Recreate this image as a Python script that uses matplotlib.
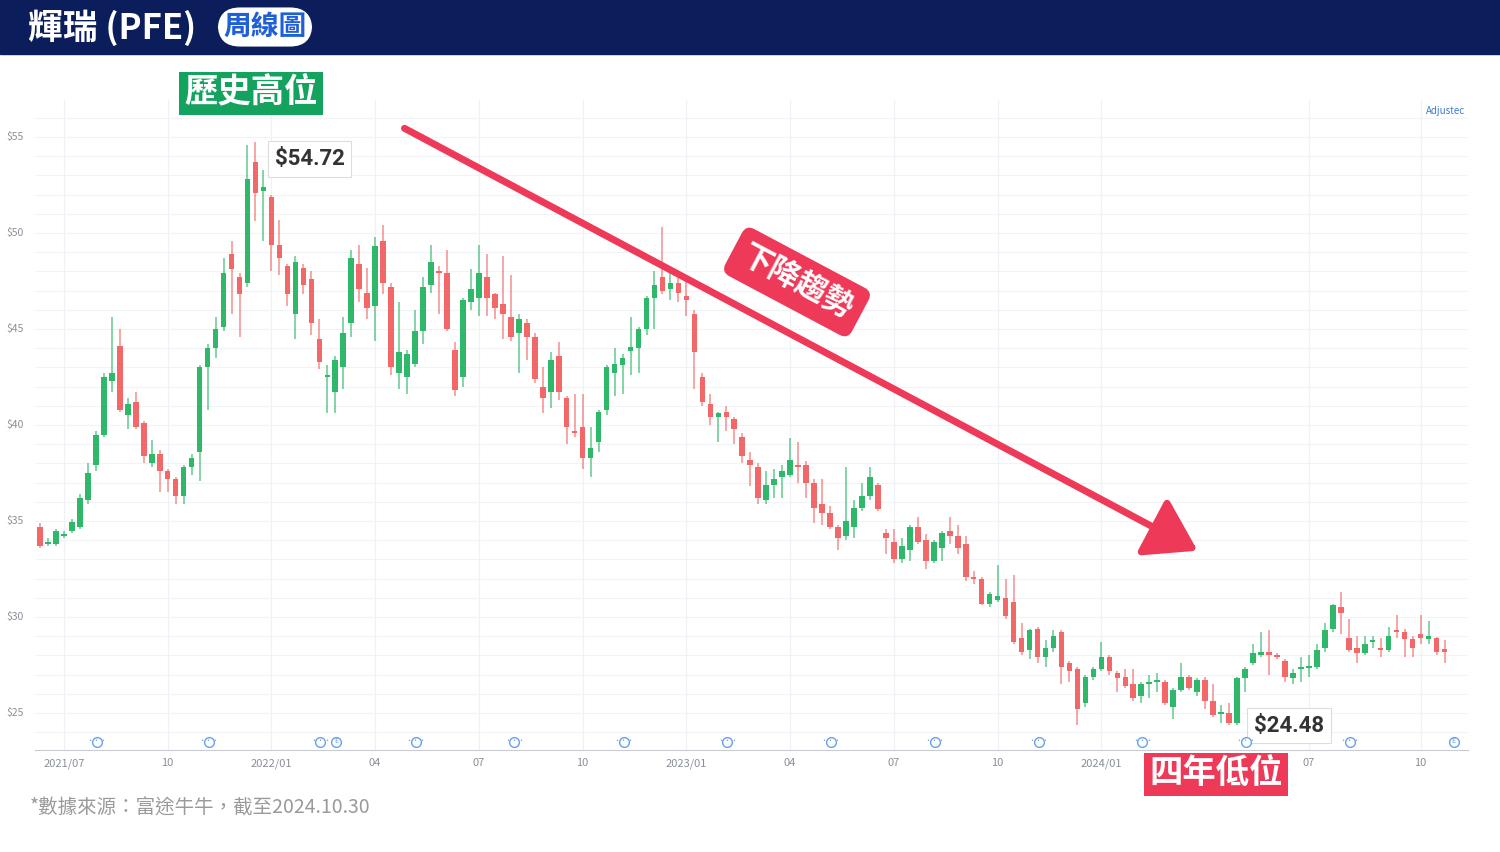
import numpy as np
import matplotlib
matplotlib.use("Agg")
import matplotlib.pyplot as plt
import matplotlib.dates as mdates
from matplotlib.patches import Rectangle
import datetime as dt

plt.rcParams['font.family'] = ['Noto Sans CJK TC', 'DejaVu Sans']

# weekly candles, PFE, from week of 2021-06-07 to 2024-10-28
opens = [34.7, 33.8, 33.8, 34.2, 34.5, 34.7, 36.1, 37.9, 39.5, 42.3, 44.1, 40.5, 41.2, 40.1, 38.0, 38.5, 37.6, 37.2, 36.3, 37.8,
         38.6, 43.0, 44.0, 45.1, 48.9, 47.7, 47.4, 53.7, 52.2, 51.9, 49.4, 48.3, 45.8, 48.2, 47.6, 44.5, 42.5, 41.7, 43.0, 45.3,
         48.4, 46.9, 46.2, 49.6, 47.2, 42.7, 42.5, 43.2, 44.9, 47.3, 48.0, 47.9, 43.9, 42.5, 46.4, 46.6, 47.7, 46.8, 46.3, 45.6,
         44.8, 45.3, 44.6, 42.0, 41.7, 43.6, 41.4, 39.7, 39.9, 38.3, 39.1, 40.8, 42.7, 43.1, 43.85, 44.0, 45.0, 46.6, 47.7, 47.1,
         47.4, 46.7, 45.8, 42.5, 41.1, 40.4, 40.7, 40.3, 39.4, 38.2, 37.8, 36.1, 36.9, 37.3, 37.4, 37.9, 37.9, 37.0, 35.9, 35.4,
         34.7, 34.2, 34.7, 35.7, 36.3, 36.9, 34.4, 33.9, 33.0, 33.5, 34.7, 34.0, 32.9, 33.6, 34.5, 34.2, 33.8, 32.1, 32.0, 30.7,
         30.9, 31.0, 30.8, 28.9, 28.3, 29.4, 27.9, 28.4, 29.2, 27.6, 27.3, 25.5, 26.9, 27.3, 27.9, 27.1, 26.9, 26.5, 25.9, 26.5,
         26.6, 26.6, 25.3, 26.2, 26.9, 26.1, 26.7, 25.6, 24.95, 25.0, 24.5, 26.8, 27.6, 28.0, 28.2, 28.0, 27.7, 26.8, 27.3, 27.35,
         27.4, 28.4, 29.4, 30.5, 28.9, 28.4, 28.1, 28.7, 28.4, 28.3, 29.3, 29.2, 28.85, 29.1, 28.85, 28.9, 28.35]
closes = [33.7, 33.9, 34.5, 34.3, 34.95, 36.2, 37.5, 39.5, 42.5, 42.7, 40.8, 41.1, 39.9, 38.4, 38.5, 37.6, 37.2, 36.3, 37.8, 38.3,
          43.0, 44.0, 45.0, 47.9, 48.1, 46.8, 52.8, 52.1, 52.4, 49.4, 48.7, 46.8, 48.5, 47.3, 45.3, 43.3, 42.6, 43.4, 44.8, 48.7,
          47.1, 46.1, 49.3, 47.4, 43.0, 43.8, 43.7, 44.9, 47.2, 48.5, 47.9, 45.0, 41.8, 46.5, 47.1, 47.9, 46.6, 46.1, 45.8, 44.6,
          45.5, 44.6, 42.4, 41.4, 43.4, 41.7, 39.9, 39.6, 38.3, 38.8, 40.7, 43.0, 43.2, 43.5, 44.05, 45.0, 46.6, 47.3, 47.0, 47.4,
          46.9, 46.5, 43.8, 41.2, 40.4, 40.6, 40.4, 39.8, 38.4, 37.9, 36.2, 36.9, 37.2, 37.6, 38.2, 37.8, 37.0, 35.7, 35.4, 34.7,
          34.1, 35.0, 35.7, 36.3, 37.3, 35.6, 34.1, 33.0, 33.7, 34.7, 33.9, 32.9, 33.9, 34.4, 34.2, 33.6, 32.1, 32.0, 30.7, 31.2,
          31.1, 30.05, 28.7, 28.2, 29.3, 27.9, 28.4, 29.0, 27.4, 27.2, 25.2, 26.9, 27.3, 27.9, 27.2, 26.8, 26.4, 25.8, 26.5, 26.6,
          26.7, 25.5, 26.2, 26.9, 26.3, 26.7, 25.6, 24.9, 25.05, 24.48, 26.8, 27.3, 28.1, 28.2, 28.0, 27.9, 26.9, 27.1, 27.4, 27.4,
          28.3, 29.3, 30.6, 30.2, 28.3, 28.1, 28.6, 28.8, 28.3, 29.0, 29.2, 28.85, 28.4, 28.9, 29.0, 28.2, 28.2]
highs = [34.9, 34.1, 34.6, 34.5, 35.1, 36.4, 38.0, 39.7, 42.7, 45.6, 45.0, 41.4, 41.7, 40.2, 39.2, 38.7, 37.7, 37.3, 37.9, 38.5,
         43.1, 44.2, 45.6, 48.7, 49.6, 47.9, 54.6, 54.72, 53.3, 52.0, 50.7, 48.4, 48.8, 48.4, 48.0, 45.5, 43.1, 43.6, 45.6, 49.1,
         49.4, 48.2, 49.8, 50.4, 47.4, 46.4, 43.9, 46.0, 47.7, 49.4, 48.3, 49.1, 44.3, 46.6, 48.1, 49.4, 48.9, 46.9, 48.8, 47.8,
         45.8, 45.5, 44.8, 43.0, 43.8, 44.3, 41.5, 41.6, 41.6, 39.9, 40.8, 43.1, 44.0, 43.7, 45.6, 45.1, 46.7, 48.0, 50.3, 48.3,
         48.0, 47.8, 46.0, 42.7, 41.6, 40.7, 41.0, 40.4, 39.6, 38.6, 38.0, 37.6, 37.7, 37.9, 39.3, 39.1, 38.1, 37.2, 37.2, 35.8,
         34.8, 37.8, 36.1, 37.0, 37.8, 37.0, 34.6, 34.6, 34.1, 34.8, 35.2, 34.3, 34.0, 34.5, 35.2, 34.8, 34.2, 32.4, 32.1, 31.3,
         32.7, 32.0, 32.2, 29.7, 29.4, 29.5, 28.8, 29.3, 29.3, 27.7, 27.4, 27.0, 27.4, 28.7, 28.0, 27.2, 27.3, 27.3, 26.6, 27.0,
         27.1, 26.7, 26.3, 27.6, 27.0, 26.8, 26.9, 26.5, 25.4, 25.5, 26.9, 27.4, 28.6, 29.2, 29.3, 28.1, 27.8, 27.3, 27.9, 28.0,
         28.6, 29.7, 30.7, 31.3, 29.9, 29.0, 29.0, 29.0, 28.9, 29.5, 30.1, 29.4, 29.0, 30.1, 29.8, 28.95, 28.8]
lows = [33.6, 33.7, 33.7, 34.1, 34.4, 34.6, 35.9, 37.6, 39.4, 41.7, 40.7, 39.8, 39.8, 38.0, 37.8, 36.5, 36.5, 35.9, 35.9, 37.4,
        37.1, 40.8, 43.5, 44.9, 45.8, 44.6, 47.2, 50.6, 49.6, 48.0, 47.8, 46.2, 44.5, 46.8, 44.7, 42.9, 40.6, 40.6, 41.9, 44.6,
        46.4, 45.5, 44.4, 46.8, 42.6, 41.9, 41.6, 43.0, 44.2, 46.9, 45.8, 44.9, 41.5, 42.0, 46.0, 45.7, 45.7, 45.5, 44.5, 44.4,
        42.7, 43.4, 42.2, 40.6, 40.9, 41.3, 39.0, 39.4, 37.7, 37.3, 38.6, 40.5, 41.5, 41.6, 42.6, 42.7, 44.7, 45.0, 46.8, 46.5,
        46.4, 45.7, 41.9, 41.0, 40.0, 39.1, 39.7, 39.0, 38.0, 36.8, 35.9, 35.9, 36.2, 36.2, 37.3, 37.0, 36.2, 34.9, 34.8, 34.6,
        33.5, 34.0, 34.1, 35.5, 36.1, 35.5, 33.3, 32.8, 32.8, 32.9, 33.8, 32.5, 32.8, 32.9, 33.8, 33.3, 31.9, 31.7, 30.6, 30.5,
        30.8, 29.9, 28.6, 28.0, 27.8, 27.6, 27.4, 28.2, 26.5, 26.6, 24.4, 25.3, 26.7, 27.2, 27.0, 26.1, 26.3, 25.6, 25.5, 25.8,
        26.1, 25.4, 24.7, 26.1, 26.2, 25.9, 25.2, 24.8, 24.5, 24.4, 24.4, 26.1, 27.5, 27.9, 27.0, 27.8, 26.6, 26.5, 26.6, 26.9,
        27.3, 28.2, 29.2, 29.1, 28.2, 27.6, 28.0, 28.4, 27.9, 28.2, 28.9, 27.9, 27.9, 28.6, 28.6, 28.0, 27.6]
start_week = dt.date(2021, 6, 7)

tick_dates = ["2021-06-28", "2021-09-27", "2021-12-27", "2022-03-28", "2022-06-27", "2022-09-26", "2022-12-26",
              "2023-03-27", "2023-06-26", "2023-09-25", "2023-12-25", "2024-06-24", "2024-09-30"]
tick_labels = ["2021/07", "10", "2022/01", "04", "07", "10", "2023/01", "04", "07", "10", "2024/01", "07", "10"]
event_dates = ["2021-07-27", "2021-11-02", "2022-02-08", "2022-02-22", "2022-05-03", "2022-07-28", "2022-11-01",
               "2023-01-31", "2023-05-02", "2023-08-01", "2023-10-31", "2024-01-30", "2024-04-30", "2024-07-30",
               "2024-10-29"]
event_kind = ["...", "...", "...", "E", "...", "...", "...", "...", "...", "...", "...", "...", "...", "...", "E"]

GREEN, RED = "#2fb86a", "#f26868"
NAVY, PINK = "#0b1d5b", "#ee3a58"
W, H = 1500, 852

fig = plt.figure(figsize=(15, 8.52), dpi=100, facecolor="white")


def fx(px):
    return px / W


def fy(py):
    return 1 - py / H


ax = fig.add_axes([fx(35), fy(750), fx(1468) - fx(35), (750 - 100) / H])
dates = [mdates.date2num(start_week + dt.timedelta(weeks=i)) for i in range(len(closes))]
o, c, h, l = map(np.array, (opens, closes, highs, lows))
d = np.array(dates)
up = c >= o
cols = np.where(up, GREEN, RED)
ax.vlines(d, l, h, colors=cols, lw=1.1, alpha=0.75, zorder=3)
ax.bar(d, np.maximum(np.abs(c - o), 0.08), bottom=np.minimum(o, c), width=4.9,
       color=cols, zorder=4, linewidth=0)

ax.set_xlim(d[0] - 4.4, d[0] + 1252.6)
ax.set_ylim(55 - 613 / 19.2, 55 + 37 / 19.2)
for v in np.arange(24, 57, 1.0):
    ax.axhline(v, color="#f1f3f7", lw=0.8, zorder=0)
tk = [mdates.date2num(dt.date.fromisoformat(s)) for s in tick_dates]
for t in tk:
    ax.axvline(t, color="#eef1f6", lw=0.9, zorder=0)
ax.set_xticks(tk)
ax.set_xticklabels(tick_labels, fontsize=8, color="#8a8f99")
ax.tick_params(axis="x", length=0, pad=6)
ax.set_yticks([])
for s in ("top", "right", "left"):
    ax.spines[s].set_visible(False)
ax.spines["bottom"].set_color("#c9ccd3")
for v in (25, 30, 35, 40, 45, 50, 55):
    ax.text(-29 / 1433, v, f"${v}", transform=ax.get_yaxis_transform(), fontsize=7.5,
            color="#8a8f99", va="center", ha="left")
ax.text(1391 / 1433, 0.983, "Adjustec", transform=ax.transAxes, fontsize=7, color="#3a7bd5",
        ha="left", va="center", clip_on=False)

# event icons
for s, k in zip(event_dates, event_kind):
    x = mdates.date2num(dt.date.fromisoformat(s))
    ax.plot([x], [23.5], "o", ms=7, mfc="white", mec="#6aa0e8", mew=1, zorder=5, clip_on=False)
    ax.text(x, 23.52, "···" if k == "..." else "E", fontsize=5, color="#6aa0e8",
            ha="center", va="center", zorder=6)

# price callouts
ih = int(np.argmax(h))
il = int(np.argmin(c))
ax.annotate(f"${h[ih]:.2f}", (d[ih], h[ih]), xytext=(14, -12), textcoords="offset points",
            fontsize=16, fontweight="bold", color="#333333", family="Roboto", va="center",
            bbox=dict(boxstyle="square,pad=0.3", fc="white", ec="#dddddd", lw=0.8))
ax.annotate(f"${c[il]:.2f}", (d[il], c[il]), xytext=(18, -2), textcoords="offset points",
            fontsize=16, fontweight="bold", color="#333333", family="Roboto", va="center",
            bbox=dict(boxstyle="square,pad=0.3", fc="white", ec="#dddddd", lw=0.8))

# trend arrow
fig.add_artist(matplotlib.patches.FancyArrowPatch(
    (fx(402), fy(127)), (fx(1200), fy(552)), transform=fig.transFigure,
    arrowstyle="-|>,head_length=14,head_width=9", color=PINK, lw=5, mutation_scale=2.2))
fig.text(fx(797), fy(282), "下降趨勢", rotation=-28, rotation_mode="anchor", ha="center", va="center",
         fontsize=22, fontweight="bold", color="white",
         bbox=dict(boxstyle="round,pad=0.35,rounding_size=0.3", fc=PINK, ec="none"))

# header
fig.add_artist(Rectangle((0, fy(54)), 1, 54 / H, transform=fig.transFigure, color=NAVY, zorder=0))
fig.text(fx(28), fy(28), "輝瑞 (PFE)", fontsize=25, fontweight="bold", color="white", va="center")
fig.text(fx(265), fy(27), "周線圖", fontsize=20, fontweight="bold", color="#1f5fd8", va="center", ha="center",
         bbox=dict(boxstyle="round,pad=0.2,rounding_size=0.8", fc="white", ec="none"))

fig.text(fx(251), fy(93), "歷史高位", fontsize=24, fontweight="bold", color="white", va="center", ha="center",
         bbox=dict(boxstyle="square,pad=0.15", fc="#14a35e", ec="none"))
fig.text(fx(1216), fy(774), "四年低位", fontsize=24, fontweight="bold", color="white", va="center", ha="center",
         bbox=dict(boxstyle="square,pad=0.15", fc=PINK, ec="none"))
fig.text(fx(30), fy(808), "*數據來源：富途牛牛，截至2024.10.30", fontsize=14, color="#9a9a9a", va="center")

fig.savefig("out.png", dpi=100, facecolor="white")
